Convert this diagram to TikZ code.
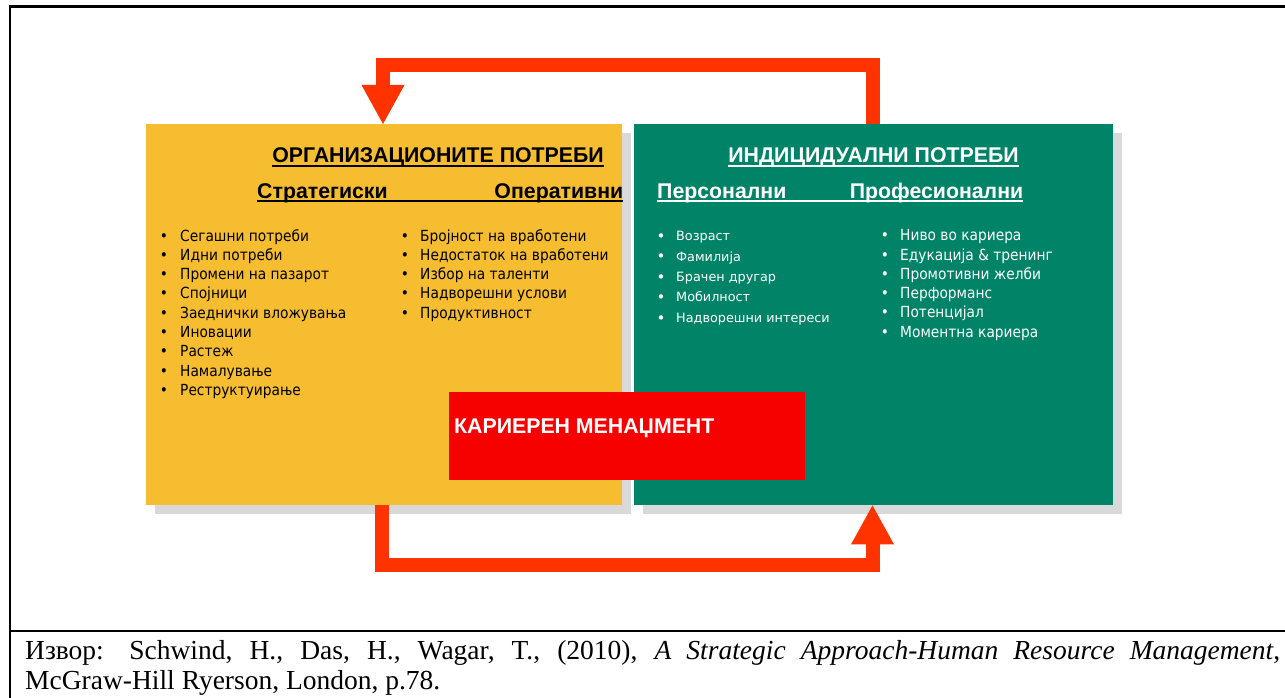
\documentclass[tikz,border=0pt]{standalone}
\usepackage{fontspec}
\setmainfont{Liberation Serif}
\newfontfamily\arialf{Liberation Sans}
\newfontfamily\tahf[FakeStretch=0.9]{DejaVu Sans}
\newfontfamily\verdf{DejaVu Sans}
\newfontfamily\capf{Liberation Serif}
\usetikzlibrary{arrows.meta,calc,shadows}

\definecolor{orgyellow}{HTML}{F6BD30}
\definecolor{indgreen}{HTML}{008366}
\definecolor{mgmtred}{HTML}{F60000}
\definecolor{flowred}{HTML}{FF3300}
\definecolor{shade}{HTML}{D9D9D9}

% heavy underline running under the whole box of its argument
\newcommand\thickul[1]{\setbox0\hbox{#1}\rlap{\rule[-4pt]{\wd0}{2.4pt}}\box0}

\tikzset{
  panel/.style={anchor=north west, inner sep=0, draw=none,
    drop shadow={shadow xshift=9pt, shadow yshift=-9pt, opacity=1, fill=shade}},
  txt/.style={inner sep=0, anchor=base west},
  headline/.style={inner sep=0, anchor=base, font=\arialf\bfseries\fontsize{21.3}{25}\selectfont},
  subhead/.style={txt, font=\arialf\bfseries\fontsize{21.3}{25}\selectfont},
  bigitem/.style={txt, font=\tahf\fontsize{15.3}{18}\selectfont},
  smallitem/.style={txt, font=\verdf\fontsize{12.8}{15}\selectfont},
  bigdot/.style={inner sep=0, anchor=base, font=\tahf\fontsize{15.3}{18}\selectfont},
  smalldot/.style={inner sep=0, anchor=base, font=\verdf\fontsize{15}{15}\selectfont},
  flow/.style={draw=flowred, line width=14pt, line join=miter, line cap=butt,
    -{Triangle[width=43pt, length=39pt, line width=0pt]}},
  frame/.style={line width=2.2pt, line cap=rect},
  cite/.style={txt, font=\capf\fontsize{27.5}{30}\selectfont},
}

\begin{document}
\begin{tikzpicture}[x=1pt, y=-1pt]
\useasboundingbox (0,0) rectangle (1285,698);

% outer frame and the rule above the source line
\draw[frame] (10,698) -- (10,6.5) -- (1285,6.5);
\draw[frame] (10,631) -- (1285,631);

% the two panels and the management box
\node[panel, fill=orgyellow, minimum width=476pt, minimum height=381pt] (org) at (146,124) {};
\node[panel, fill=indgreen, minimum width=479pt, minimum height=381pt] (ind) at (634,124) {};
\node[anchor=north west, inner sep=0, fill=mgmtred, minimum width=356pt, minimum height=88pt] (mgmt) at (449,392) {};
\node[txt, text=white, font=\arialf\bfseries\fontsize{21.3}{25}\selectfont] (mgmtlabel) at (454,433) {КАРИЕРЕН МЕНАЏМЕНТ};

% organisational needs
\node[headline] (orgtitle) at (438,163) {\thickul{ОРГАНИЗАЦИОНИТЕ ПОТРЕБИ}};
\node[subhead] (orgsub) at (257,198) {\thickul{\makebox[366pt]{Стратегиски\hfill Оперативни}}};
\foreach \t [count=\i] in {Сегашни потреби, Идни потреби, Промени на пазарот, Спојници,
    Заеднички вложувања, Иновации, Растеж, Намалување, Реструктуирање} {
  \node[bigdot] (sd\i) at (164,{241+19.3*(\i-1)}) {•};
  \node[bigitem] (st\i) at (180,{241+19.3*(\i-1)}) {\t};
}
\foreach \t [count=\i] in {Бројност на вработени, Недостаток на вработени, Избор на таленти,
    Надворешни услови, Продуктивност} {
  \node[bigdot] (od\i) at (405,{241+19.3*(\i-1)}) {•};
  \node[bigitem] (ot\i) at (420,{241+19.3*(\i-1)}) {\t};
}

% individual needs
\node[headline, text=white] (indtitle) at (873.5,163) {\thickul{ИНДИЦИДУАЛНИ ПОТРЕБИ}};
\node[subhead, text=white] (indsub) at (657,198) {\thickul{\makebox[366pt]{Персонални\hfill Професионални}}};
\foreach \t [count=\i] in {Возраст, Фамилија, Брачен другар, Мобилност, Надворешни интереси} {
  \node[smalldot, text=white] (pd\i) at (661,{241.5+20.4*(\i-1)}) {•};
  \node[smallitem, text=white] (pt\i) at (676,{240.7+20.4*(\i-1)}) {\t};
}
\foreach \t [count=\i] in {Ниво во кариера, Едукација \& тренинг, Промотивни желби, Перформанс,
    Потенцијал, Моментна кариера} {
  \node[bigdot, text=white] (fd\i) at (885,{240.7+19.3*(\i-1)}) {•};
  \node[bigitem, text=white] (ft\i) at (900,{240.7+19.3*(\i-1)}) {\t};
}

% feedback loop between the panels
\draw[flow] ($(ind.north west)+(238.5,0)$) -- ++(0,-58.5) -| ($(org.north west)+(237,0)$);
\draw[flow] ($(org.south west)+(236,0)$) -- ++(0,60) -| ($(ind.south west)+(238.5,0)$);

% source
\node[cite] (src1) at (25,659) {\makebox[1255pt][s]{Извор: Schwind, H., Das, H., Wagar, T., (2010), \textit{A Strategic Approach-Human Resource Management},}};
\node[cite] (src2) at (25,689) {McGraw-Hill Ryerson, London, p.78.};
\end{tikzpicture}
\end{document}
